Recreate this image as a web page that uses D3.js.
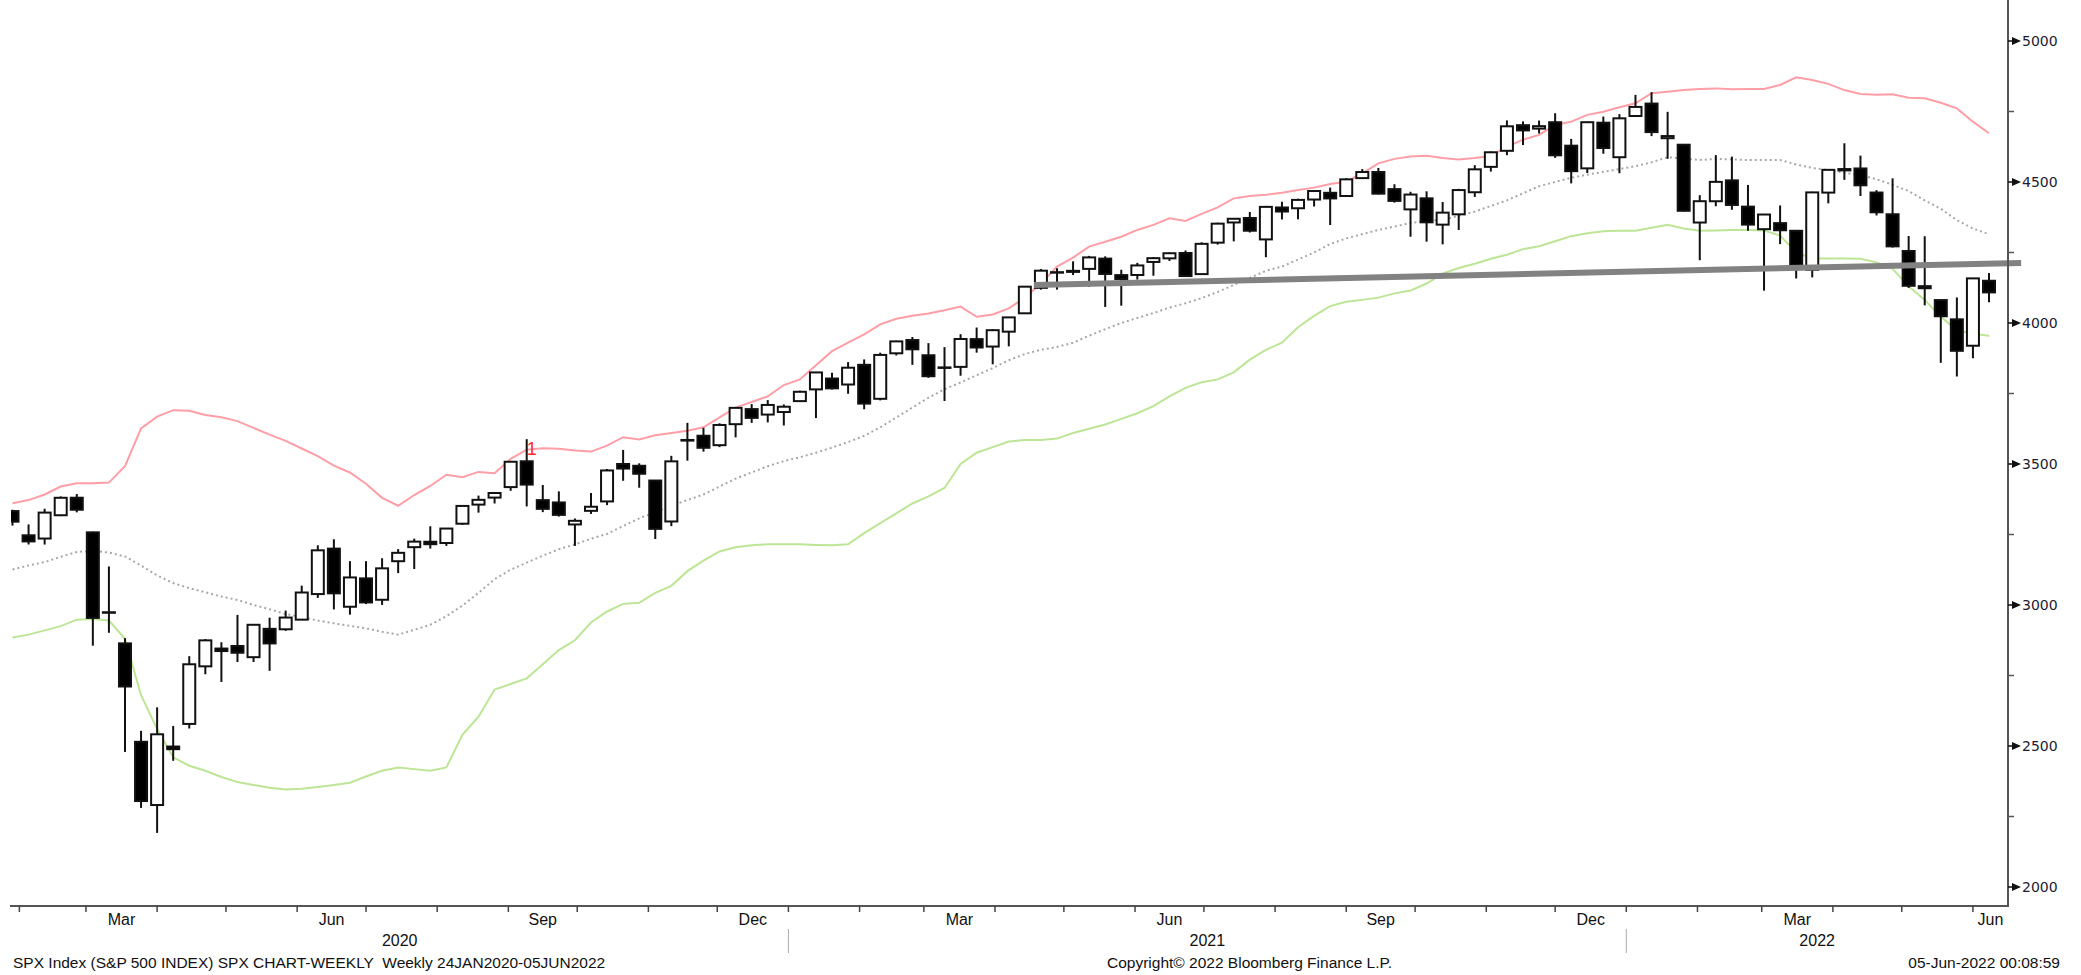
<!DOCTYPE html>
<html>
<head>
<meta charset="utf-8">
<script src="https://cdn.jsdelivr.net/npm/d3@7"></script>
<style>
  body { margin: 0; background: #fff; }
  svg { display: block; }
  text { white-space: pre; }
</style>
</head>
<body>
<div id="chart"></div>
<script>
// weekly bars, week ending Friday 24 Jan 2020 .. 3 Jun 2022
const weekEnd = d3.timeFriday.range(new Date(2020, 0, 24), new Date(2022, 5, 4));

const open = [3333.1,3247.2,3235.7,3318.3,3380.4,3257.6,2974.3,2863.9,2514.9,2290.7,
  2498.1,2578.3,2782.5,2845.6,2854.7,2815.0,2915.5,2913.9,2948.0,3038.8,
  3199.9,2993.8,3094.4,3018.6,3155.3,3205.1,3224.3,3219.8,3288.3,3356.0,
  3380.9,3418.1,3509.7,3371.9,3363.6,3285.6,3333.9,3367.3,3500.0,3493.7,
  3441.4,3296.2,3583.0,3600.2,3566.8,3641.2,3694.7,3675.3,3684.3,3723.0,
  3764.6,3803.1,3781.9,3851.7,3731.2,3892.6,3939.6,3885.6,3842.5,3844.4,
  3942.9,3916.5,3969.3,4034.4,4124.7,4179.8,4185.0,4191.9,4228.3,4169.9,
  4170.2,4216.5,4229.3,4248.3,4173.4,4284.9,4356.5,4372.4,4296.4,4409.6,
  4406.9,4437.8,4461.7,4450.3,4513.8,4535.4,4474.8,4402.9,4442.1,4348.8,
  4385.4,4463.7,4553.7,4610.6,4701.5,4689.3,4712.0,4628.8,4548.4,4710.3,
  4587.9,4734.0,4778.1,4655.3,4632.2,4356.3,4431.8,4505.8,4412.6,4332.7,
  4354.2,4327.0,4188.8,4462.4,4541.1,4548.0,4462.6,4385.6,4255.3,4130.6,
  4081.3,4013.0,3919.4,4149.8];

const high = [3337.8,3285.9,3341.4,3385.1,3393.5,3259.8,3136.7,2882.6,2553.9,2637.0,
  2571.2,2818.6,2879.2,2868.0,2965.0,2932.2,2954.9,2980.3,3068.7,3211.7,
  3233.1,3155.5,3155.5,3165.8,3198.2,3235.3,3279.3,3272.0,3352.0,3387.9,
  3399.5,3509.4,3588.1,3425.6,3402.9,3306.9,3397.2,3482.3,3549.9,3502.4,
  3441.4,3529.0,3645.9,3628.5,3644.3,3699.2,3712.4,3726.7,3711.2,3760.2,
  3826.7,3823.6,3861.5,3870.9,3894.6,3937.0,3950.4,3928.7,3914.5,3960.3,
  3983.9,3978.2,4020.6,4129.5,4191.3,4194.2,4218.8,4238.0,4236.4,4188.7,
  4213.4,4234.1,4249.7,4257.2,4286.1,4355.8,4372.0,4393.7,4415.2,4430.0,
  4440.8,4468.0,4480.3,4513.3,4545.9,4549.8,4492.0,4465.4,4466.9,4429.0,
  4475.8,4559.7,4608.1,4718.5,4714.9,4718.0,4743.8,4652.9,4713.6,4732.0,
  4740.7,4808.9,4818.6,4748.8,4632.2,4453.2,4595.3,4590.0,4489.6,4385.0,
  4416.8,4327.0,4465.4,4546.0,4637.3,4593.5,4471.0,4512.9,4308.5,4307.7,
  4081.3,4090.7,4158.5,4177.5];

const low = [3281.5,3214.6,3214.3,3315.2,3328.5,2855.8,2901.5,2478.9,2280.5,2191.9,
  2447.5,2562.0,2754.4,2727.1,2797.8,2797.9,2766.6,2908.3,2948.0,3025.2,
  2984.5,2965.7,3003.3,3000.1,3113.0,3127.7,3200.0,3209.5,3284.5,3327.5,
  3360.0,3405.0,3349.6,3329.3,3313.6,3209.4,3323.0,3354.0,3440.5,3415.9,
  3233.9,3279.7,3511.9,3543.8,3559.9,3594.5,3645.8,3647.5,3636.5,3720.0,
  3662.7,3764.2,3749.0,3694.1,3725.6,3884.9,3851.6,3805.6,3723.3,3813.0,
  3894.8,3853.5,3917.1,4034.4,4118.4,4118.4,4170.2,4128.6,4056.9,4061.4,
  4154.0,4167.6,4220.0,4164.4,4173.4,4278.0,4289.4,4321.0,4233.1,4367.0,
  4367.7,4413.0,4347.5,4450.0,4513.0,4456.0,4427.0,4305.9,4288.5,4278.9,
  4329.9,4447.0,4537.0,4595.0,4630.9,4672.0,4585.4,4495.1,4532.0,4600.2,
  4531.1,4733.0,4662.7,4582.2,4395.3,4222.6,4414.0,4401.4,4327.2,4114.7,
  4279.5,4157.9,4161.7,4424.3,4507.6,4450.3,4381.3,4267.6,4124.3,4062.5,
  3858.9,3810.3,3875.1,4073.9];

const close = [3295.5,3225.5,3327.7,3380.2,3337.8,2954.2,2972.4,2711.0,2304.9,2541.5,
  2488.7,2789.8,2874.6,2836.7,2830.7,2929.8,2863.7,2955.5,3044.3,3193.9,
  3041.3,3097.7,3009.1,3130.0,3185.0,3224.7,3215.6,3271.1,3351.3,3372.9,
  3397.2,3508.0,3426.9,3340.9,3319.5,3298.5,3348.4,3477.1,3483.8,3465.4,
  3270.0,3509.4,3585.2,3557.5,3638.4,3699.1,3663.5,3709.4,3703.1,3756.1,
  3824.7,3768.3,3841.5,3714.2,3886.8,3934.8,3906.7,3811.2,3841.9,3943.3,
  3913.1,3974.5,4019.9,4128.8,4185.5,4180.2,4181.2,4232.6,4173.9,4155.9,
  4204.1,4229.9,4247.4,4166.5,4280.7,4352.3,4369.6,4327.2,4411.8,4395.3,
  4436.5,4468.0,4441.7,4509.4,4535.4,4458.6,4433.0,4455.5,4357.0,4391.3,
  4471.4,4544.9,4605.4,4697.5,4682.9,4698.0,4594.6,4538.4,4712.0,4620.6,
  4725.8,4766.2,4677.0,4662.9,4397.9,4431.9,4500.5,4418.6,4348.9,4384.7,
  4328.9,4204.3,4463.1,4543.1,4545.9,4488.3,4392.6,4271.8,4131.9,4123.3,
  4023.9,3901.4,4158.2,4108.5];

// bollinger bands
const bbUpper = [3361,3372,3392,3420,3432,3432,3434,3492,3626,3668,
  3691,3689,3674,3666,3652,3628,3604,3582,3555,3528,
  3494,3470,3430,3380,3352,3390,3422,3462,3453,3472,
  3467,3518,3551,3556,3554,3548,3544,3565,3595,3587,
  3602,3610,3618,3630,3665,3700,3720,3740,3780,3800,
  3850,3900,3930,3960,3995,4015,4026,4034,4045,4058,
  4022,4030,4052,4090,4140,4200,4232,4271,4288,4306,
  4330,4348,4371,4362,4387,4410,4442,4450,4455,4462,
  4472,4480,4493,4501,4531,4566,4582,4590,4593,4585,
  4580,4585,4592,4625,4650,4667,4702,4714,4738,4749,
  4765,4779,4815,4820,4826,4830,4832,4829,4830,4830,
  4844,4871,4862,4848,4826,4812,4809,4811,4799,4797,
  4781,4761,4714,4673];

const bbMiddle = [3126,3140,3152,3171,3188,3192,3186,3172,3140,3105,
  3078,3060,3045,3030,3018,3000,2985,2968,2957,2945,
  2935,2926,2917,2905,2895,2912,2930,2960,2998,3043,
  3092,3125,3150,3175,3198,3215,3235,3252,3280,3307,
  3330,3352,3372,3392,3420,3448,3470,3492,3510,3524,
  3540,3558,3578,3600,3630,3665,3700,3735,3765,3789,
  3815,3840,3868,3890,3905,3915,3930,3955,3978,4000,
  4018,4035,4055,4070,4088,4110,4135,4160,4185,4200,
  4225,4250,4280,4300,4315,4330,4342,4355,4362,4366,
  4380,4395,4415,4435,4460,4485,4500,4515,4526,4536,
  4546,4556,4570,4588,4583,4578,4582,4580,4578,4578,
  4578,4562,4550,4542,4533,4524,4510,4490,4468,4435,
  4405,4365,4335,4315];

const bbLower = [2885,2895,2910,2925,2948,2950,2945,2880,2680,2560,
  2460,2430,2412,2390,2372,2362,2352,2346,2348,2355,
  2362,2370,2392,2412,2424,2418,2412,2424,2540,2604,
  2700,2720,2740,2790,2840,2875,2938,2977,3004,3008,
  3043,3068,3120,3157,3190,3205,3212,3215,3215,3215,
  3213,3212,3215,3255,3290,3325,3360,3385,3415,3500,
  3540,3560,3580,3585,3585,3590,3610,3625,3640,3660,
  3680,3705,3740,3770,3790,3800,3825,3870,3905,3930,
  3985,4025,4060,4075,4082,4090,4105,4115,4140,4175,
  4195,4210,4228,4242,4262,4272,4290,4308,4318,4325,
  4327,4327,4338,4348,4335,4327,4328,4330,4330,4328,
  4310,4250,4229,4229,4229,4228,4215,4192,4130,4082,
  4022,3975,3962,3955];

// hand drawn trend line: start / end dates and levels
const trendDates = [new Date(2021, 3, 13), new Date(2022, 5, 17)];
const trendLevels = [4135, 4213];

// the red "1" marker
const markDate = new Date(2020, 8, 4);
const markLevel = 3532;

const yTicks = [2000, 2500, 3000, 3500, 4000, 4500, 5000];
const yMinor = [2250, 2750, 3250, 3750, 4250, 4750];
const quarterMonths = [2, 5, 8, 11];
const years = [2020, 2021, 2022];

const W = 2081, H = 975;
const plotL = 11, plotR = 2008, axisY = 906;
const labelFont = "Liberation Sans, Arial, sans-serif";

const svg = d3.select("#chart").append("svg")
  .attr("width", W)
  .attr("height", H);

const x = d3.scaleTime()
  .domain([weekEnd[0], weekEnd[weekEnd.length - 1]])
  .range([12.5, 1989]);

// calendar positions sit a few days ahead of the bar dates on this chart
const xCal = d3.scaleTime()
  .domain([d3.timeDay.offset(weekEnd[0], 5), d3.timeDay.offset(weekEnd[weekEnd.length - 1], 5)])
  .range([12.5, 1989]);

const y = d3.scaleLinear()
  .domain([2000, 5000])
  .range([887, 41]);

svg.append("clipPath").attr("id", "plot")
  .append("rect")
  .attr("x", plotL)
  .attr("y", 0)
  .attr("width", plotR - plotL)
  .attr("height", axisY);

let g = svg.append("g").attr("clip-path", "url(#plot)");

let bandLine = d3.line()
  .x((d, i) => x(weekEnd[i]))
  .y(d => y(d));

g.append("path")
  .attr("d", bandLine(bbLower))
  .attr("fill", "none")
  .attr("stroke", "#bde596")
  .attr("stroke-width", 2);

g.append("path")
  .attr("d", bandLine(bbUpper))
  .attr("fill", "none")
  .attr("stroke", "#ff9ea6")
  .attr("stroke-width", 2);

g.append("path")
  .attr("d", bandLine(bbMiddle))
  .attr("fill", "none")
  .attr("stroke", "#a8a8a8")
  .attr("stroke-width", 2)
  .attr("stroke-dasharray", "2,3");

// trend line runs a little past the price axis
svg.append("line")
  .attr("x1", x(trendDates[0]))
  .attr("y1", y(trendLevels[0]))
  .attr("x2", x(trendDates[1]))
  .attr("y2", y(trendLevels[1]))
  .attr("stroke", "#828282")
  .attr("stroke-width", 6);

// candles
let bodyW = 12;
let candles = g.append("g");

weekEnd.forEach((d, i) => {
  let cx = x(d);
  let up = close[i] >= open[i];
  candles.append("line")
    .attr("x1", cx).attr("x2", cx)
    .attr("y1", y(high[i])).attr("y2", y(low[i]))
    .attr("stroke", "#111")
    .attr("stroke-width", 2);
  let top = y(Math.max(open[i], close[i]));
  let bot = y(Math.min(open[i], close[i]));
  candles.append("rect")
    .attr("x", cx - bodyW / 2)
    .attr("y", top)
    .attr("width", bodyW)
    .attr("height", Math.max(0.5, bot - top))
    .attr("fill", up ? "#fff" : "#000")
    .attr("stroke", "#111")
    .attr("stroke-width", 2);
});

svg.append("text")
  .attr("x", x(markDate) + 5)
  .attr("y", y(markLevel))
  .attr("text-anchor", "middle")
  .attr("font-family", labelFont)
  .attr("font-size", 18)
  .attr("fill", "#ff2a2a")
  .text("1");

// price axis on the right
svg.append("line")
  .attr("x1", plotR).attr("x2", plotR)
  .attr("y1", 0).attr("y2", axisY + 1)
  .attr("stroke", "#555")
  .attr("stroke-width", 2);

let yAxis = svg.append("g");

yTicks.forEach(v => {
  let ty = y(v);
  yAxis.append("path")
    .attr("d", `M${plotR},${ty - 0.8}L${plotR + 4},${ty - 0.8}L${plotR + 4},${ty - 4}L${plotR + 13},${ty}L${plotR + 4},${ty + 4}L${plotR + 4},${ty + 0.8}L${plotR},${ty + 0.8}Z`)
    .attr("fill", "#111");
  yAxis.append("text")
    .attr("x", plotR + 14)
    .attr("y", ty)
    .attr("dy", "0.36em")
    .attr("font-family", "DejaVu Sans, Verdana, sans-serif")
    .attr("font-size", 14)
    .attr("fill", "#1c1c30")
    .text(v);
});

yMinor.forEach(v => {
  yAxis.append("line")
    .attr("x1", plotR).attr("x2", plotR + 6)
    .attr("y1", y(v)).attr("y2", y(v))
    .attr("stroke", "#555")
    .attr("stroke-width", 1.5);
});

// time axis
svg.append("line")
  .attr("x1", plotL - 1).attr("x2", plotR)
  .attr("y1", axisY).attr("y2", axisY)
  .attr("stroke", "#555")
  .attr("stroke-width", 2);

let months = d3.timeMonth.range(new Date(2020, 1, 1), new Date(2022, 6, 1));
let xAxis = svg.append("g")
  .attr("font-family", labelFont)
  .attr("font-size", 16)
  .attr("fill", "#111");

months.forEach(m => {
  let mx = xCal(m);
  if (mx > plotL && mx < plotR) {
    xAxis.append("line")
      .attr("x1", mx).attr("x2", mx)
      .attr("y1", axisY).attr("y2", axisY + 6)
      .attr("stroke", "#444")
      .attr("stroke-width", 1.5);
  }
  if (quarterMonths.includes(m.getMonth())) {
    let a = Math.max(plotL, mx);
    let b = Math.min(plotR, xCal(d3.timeMonth.offset(m, 1)));
    xAxis.append("text")
      .attr("x", (a + b) / 2)
      .attr("y", 925)
      .attr("text-anchor", "middle")
      .text(d3.timeFormat("%b")(m));
  }
});

years.forEach(yr => {
  let a = Math.max(plotL, xCal(new Date(yr, 0, 1)));
  let b = Math.min(plotR, xCal(new Date(yr + 1, 0, 1)));
  xAxis.append("text")
    .attr("x", (a + b) / 2)
    .attr("y", 946)
    .attr("text-anchor", "middle")
    .text(yr);
  if (xCal(new Date(yr, 0, 1)) > plotL) {
    xAxis.append("line")
      .attr("x1", a).attr("x2", a)
      .attr("y1", 929).attr("y2", 953)
      .attr("stroke", "#aaa")
      .attr("stroke-width", 1);
  }
});

// footer
let foot = svg.append("g")
  .attr("font-family", labelFont)
  .attr("font-size", 15.5)
  .attr("fill", "#111");

foot.append("text")
  .attr("x", 13)
  .attr("y", 968)
  .text("SPX Index (S&P 500 INDEX) SPX CHART-WEEKLY  Weekly 24JAN2020-05JUN2022");

foot.append("text")
  .attr("x", 1107)
  .attr("y", 968)
  .text("Copyright\u00a9 2022 Bloomberg Finance L.P.");

foot.append("text")
  .attr("x", 2060)
  .attr("y", 968)
  .attr("text-anchor", "end")
  .text("05-Jun-2022 00:08:59");
</script>
</body>
</html>
